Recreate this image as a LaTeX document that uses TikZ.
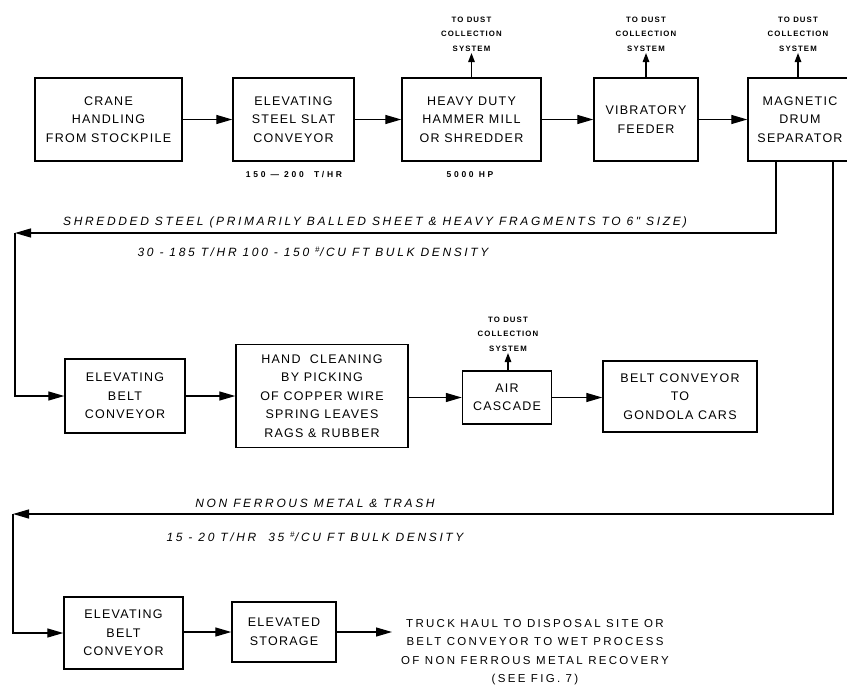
\documentclass[tikz,border=0pt]{standalone}
\usepackage{fontspec}
\usetikzlibrary{arrows.meta}
\newfontfamily\boxfont{Liberation Sans}[LetterSpace=10]
\newfontfamily\dustfont{Liberation Sans}[LetterSpace=14]
\newfontfamily\notefont{Liberation Sans}[LetterSpace=32]
\newfontfamily\labfont{Liberation Sans}[LetterSpace=22]
\newfontfamily\truckfont{Liberation Sans}[LetterSpace=20]
\tikzset{
  x=1pt,y=-1pt,
  box/.style={draw,line width=1.4pt,inner sep=0pt,align=center,
    font=\boxfont\fontsize{12.5}{18.5}\selectfont},
  dust/.style={inner sep=1.5pt,align=center,
    font=\dustfont\bfseries\fontsize{7.8}{14.5}\selectfont},
  note/.style={inner sep=0pt,font=\notefont\bfseries\fontsize{8.5}{10}\selectfont},
  flow/.style={inner sep=0pt,font=\labfont\itshape\fontsize{12}{13}\selectfont},
  conn/.style={line width=1.3pt,-{Triangle[length=16pt,width=9pt]}},
  up/.style={line width=1.3pt,-{Triangle[length=9pt,width=6.5pt]}}
}
\begin{document}
\begin{tikzpicture}
\useasboundingbox (0,0) rectangle (847,694);
% row 1
\node[box,minimum width=147pt,minimum height=83pt] (crane) at (108.5,119.5) {CRANE\\HANDLING\\FROM STOCKPILE};
\node[box,minimum width=121pt,minimum height=83pt] (slat) at (293.5,119.5) {ELEVATING\\STEEL SLAT\\CONVEYOR};
\node[box,minimum width=139pt,minimum height=83pt] (mill) at (471.5,119.5) {HEAVY DUTY\\HAMMER MILL\\OR SHREDDER};
\node[box,minimum width=104pt,minimum height=83pt] (feed) at (646,119.5) {VIBRATORY\\FEEDER};
\node[box,minimum width=104pt,minimum height=83pt] (mag) at (800,119.5) {MAGNETIC\\DRUM\\SEPARATOR};
\draw[conn] (crane) -- (slat);
\draw[conn] (slat) -- (mill);
\draw[conn] (mill) -- (feed);
\draw[conn] (feed) -- (mag);
\node[dust,anchor=south] (d1) at (471.5,53) {TO DUST\\COLLECTION\\SYSTEM};
\node[dust,anchor=south] (d2) at (646,53) {TO DUST\\COLLECTION\\SYSTEM};
\node[dust,anchor=south] (d3) at (798,53) {TO DUST\\COLLECTION\\SYSTEM};
\draw[up] (mill.north) -- (d1.south);
\draw[up] (feed.north) -- (d2.south);
\draw[up] (mag.north -| d3.south) -- (d3.south);
\node[note] (rate) at (294,175) {150 — 200\ \ T/HR};
\node[note] (hp) at (470,175) {5000 HP};
% shredded steel line
\coordinate (s1) at (776,233);
\coordinate (s2) at (15,233);
\draw[conn] (mag.south -| s1) -- (s1) -- (s2);
\node[flow] (t1) at (375,222) {SHREDDED STEEL\ (PRIMARILY BALLED SHEET \& HEAVY FRAGMENTS TO 6" SIZE\,)};
\node[flow] (t2) at (313,252) {30 - 185 T/HR 100 - 150\ \textsuperscript{\#}/CU FT\ BULK DENSITY};
% row 2
\node[box,minimum width=120pt,minimum height=74pt] (ebc1) at (125,396) {ELEVATING\\BELT\\CONVEYOR};
\node[box,minimum width=172pt,minimum height=103pt] (hand) at (322,396) {HAND\ \ CLEANING\\BY PICKING\\OF COPPER WIRE\\SPRING LEAVES\\RAGS \& RUBBER};
\node[box,minimum width=89pt,minimum height=53pt] (air) at (507,397.5) {AIR\\CASCADE};
\node[box,minimum width=154pt,minimum height=71pt] (gond) at (680,396.5) {BELT CONVEYOR\\TO\\GONDOLA CARS};
\draw[conn] (s2) |- (ebc1.west);
\draw[conn] (ebc1.east) -- (ebc1.east -| hand.west);
\draw[conn] (hand.east |- air.west) -- (air.west);
\draw[conn] (air.east) -- (air.east -| gond.west);
\node[dust,anchor=south] (d4) at (508,353) {TO DUST\\COLLECTION\\SYSTEM};
\draw[up] (air.north -| d4.south) -- (d4.south);
% non ferrous line
\coordinate (n1) at (833,514);
\coordinate (n2) at (13,514);
\draw[conn] (mag.south -| n1) -- (n1) -- (n2);
\node[flow] (t3) at (315,503) {NON FERROUS\ METAL \& TRASH};
\node[flow] (t4) at (315,537) {15 - 20 T/HR\ \ 35 \textsuperscript{\#}/CU FT\ BULK DENSITY};
% row 3
\node[box,minimum width=119pt,minimum height=72pt] (ebc2) at (123.5,633) {ELEVATING\\BELT\\CONVEYOR};
\node[box,minimum width=104pt,minimum height=60pt] (store) at (284,632) {ELEVATED\\STORAGE};
\draw[conn] (n2) |- (ebc2.west);
\draw[conn] (ebc2.east |- store.west) -- (store.west);
\node[inner sep=0pt,align=center,anchor=west,font=\truckfont\fontsize{11.5}{18.5}\selectfont] (truck) at (401,652) {TRUCK HAUL TO DISPOSAL\ SITE\ OR\\BELT CONVEYOR\ TO WET PROCESS\\OF NON FERROUS METAL RECOVERY\\(SEE FIG. 7)};
\coordinate (tk) at (392,632);
\draw[conn] (store.east) -- (tk);
\end{tikzpicture}
\end{document}
